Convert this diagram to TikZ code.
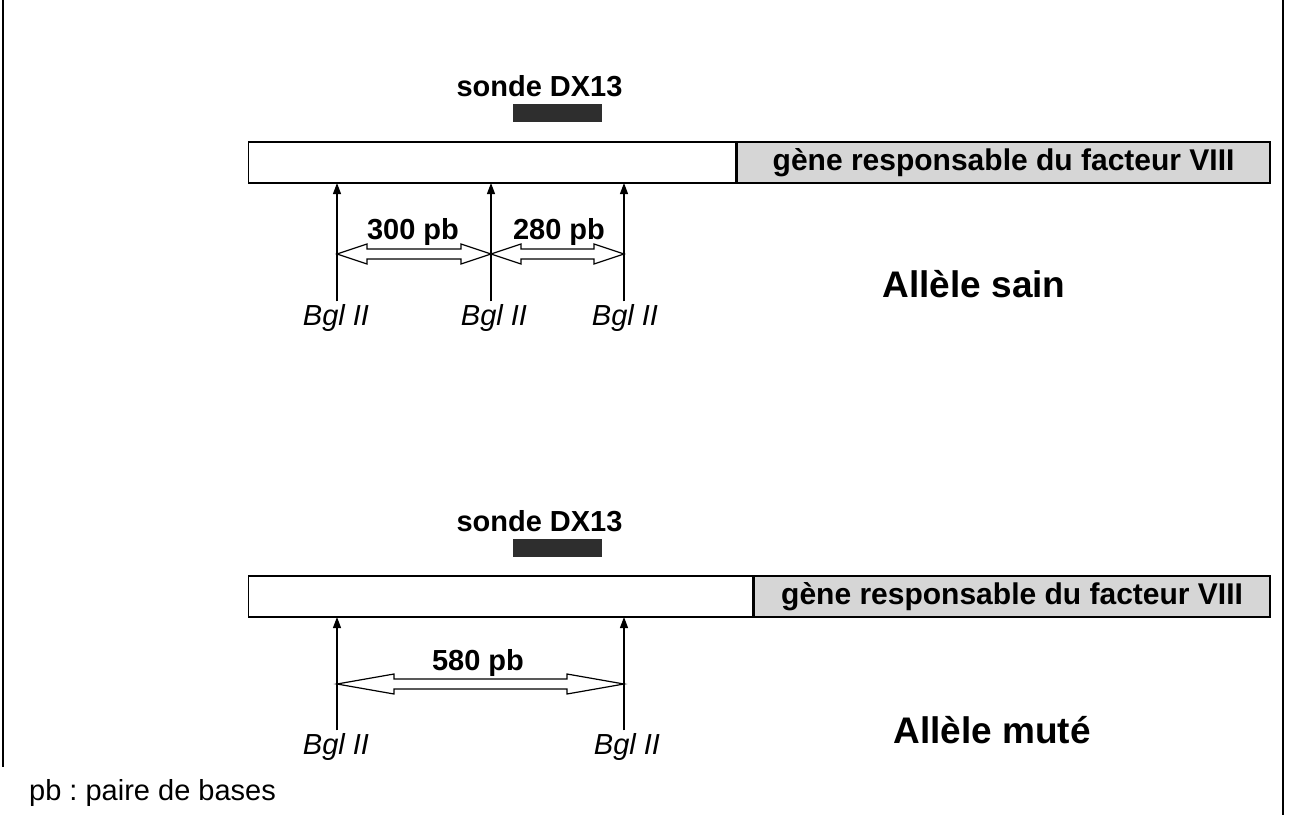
\documentclass[tikz,border=0pt]{standalone}
\usepackage{fontspec}
\setmainfont{Liberation Sans}
\frenchspacing
\usetikzlibrary{calc,positioning,arrows.meta}
\definecolor{genegray}{gray}{0.84}
\definecolor{probegray}{gray}{0.18}
\newcommand{\fsz}[1]{\fontsize{#1}{#1}\selectfont}
\newcommand{\blockarrow}[3]{
  % hollow double arrow between two cut sites, head length #3
  \draw[line width=1.2pt, fill=white] (#1) -- ($(#1)+(#3,-10)$) -- ($(#1)+(#3,-5)$)
    -- ($(#2)+(-#3,-5)$) -- ($(#2)+(-#3,-10)$) -- (#2) -- ($(#2)+(-#3,10)$)
    -- ($(#2)+(-#3,5)$) -- ($(#1)+(#3,5)$) -- ($(#1)+(#3,10)$) -- cycle;
}
\tikzset{
  seg/.style={draw, line width=1.4pt, fill=white, minimum height=41pt, inner sep=0pt, anchor=west},
  gene/.style={draw, line width=1.4pt, fill=genegray, minimum height=41pt, inner sep=0pt,
    font=\fsz{30}\bfseries},
  probe/.style={fill=probegray, minimum width=89pt, minimum height=18pt, inner sep=0pt},
  lbl/.style={font=\fsz{29}\bfseries, inner sep=0pt},
  enz/.style={font=\fsz{29}\itshape, inner sep=3pt},
  site/.style={line width=1.1pt, -{Triangle[length=11pt,width=8pt]}},
  allele/.style={font=\fsz{37}\bfseries, inner sep=0pt}
}

\begin{document}
\begin{tikzpicture}[x=1pt, y=-1pt]
	\useasboundingbox (0,0) rectangle (1294,815);
	\draw[line width=1.4pt] (3,0) -- (3,767);
	\draw[line width=1.4pt] (1283,0) -- (1283,815);
	
	% allele sain
	\node[probe] (p1) at (557.5,113) {};
	\node[lbl, above=7pt of p1, xshift=-18pt] (t1) {sonde DX13};
	\node[seg, minimum width=487pt] (w1) at (248,162.5) {};
	\node[gene, minimum width=533pt, right=0pt of w1] (g1) {gène responsable du facteur VIII};
	\coordinate (s1) at (337,183);
	\coordinate (s2) at (491,183);
	\coordinate (s3) at (624,183);
	\node[enz] (b1) at (336,318) {Bgl II};
	\node[enz] (b2) at (494,318) {Bgl II};
	\node[enz] (b3) at (625,318) {Bgl II};
	\draw[site] (s1 |- b1.north) -- (s1);
	\draw[site] (s2 |- b2.north) -- (s2);
	\draw[site] (s3 |- b3.north) -- (s3);
	\coordinate (m1) at (337,254);
	\coordinate (m2) at (491,254);
	\coordinate (m3) at (624,254);
	\blockarrow{m1}{m2}{30}
	\blockarrow{m2}{m3}{30}
	\node[lbl] (d1) at (413,232) {300 pb};
	\node[lbl] (d2) at (559,232) {280 pb};
	\node[allele] (a1) at (974,284) {Allèle sain};
	
	% allele mute
	\node[probe] (p2) at (557.5,548) {};
	\node[lbl, above=7pt of p2, xshift=-18pt] (t2) {sonde DX13};
	\node[seg, minimum width=504pt] (w2) at (248,596.5) {};
	\node[gene, minimum width=516pt, right=0pt of w2] (g2) {gène responsable du facteur VIII};
	\coordinate (s4) at (337,617);
	\coordinate (s5) at (624,617);
	\node[enz] (b4) at (336,747) {Bgl II};
	\node[enz] (b5) at (627,747) {Bgl II};
	\draw[site] (s4 |- b4.north) -- (s4);
	\draw[site] (s5 |- b5.north) -- (s5);
	\coordinate (m4) at (337,684);
	\coordinate (m5) at (624,684);
	\blockarrow{m4}{m5}{57}
	\node[lbl] (d3) at (478,663) {580 pb};
	\node[allele] (a2) at (992,730) {Allèle muté};
	
	\node[font=\fsz{29}, inner sep=0pt, anchor=west] (leg) at (29,793) {pb : paire de bases};
\end{tikzpicture}
\end{document}
